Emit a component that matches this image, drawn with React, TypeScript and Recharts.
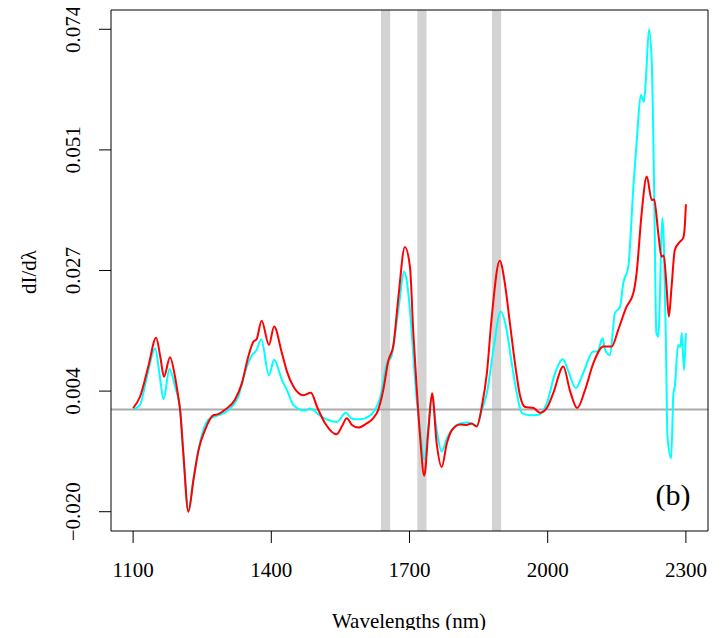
import { LineChart, Line, XAxis, YAxis, ReferenceArea, ReferenceLine } from 'recharts';

const xTicks = [1100, 1400, 1700, 2000, 2300];
const yTicks = [-0.0199, 0.0036, 0.0271, 0.0506, 0.0741];
const yTickLabels = ['\u22120.020', '0.004', '0.027', '0.051', '0.074'];

// gray bands (nm)
const bandStart = [1638, 1717, 1879];
const bandEnd = [1658, 1737, 1899];

const cyanNm = [
  1100, 1115, 1130, 1148, 1158, 1166, 1179, 1191, 1202, 1209, 1220, 1231, 1242, 1263, 1285, 1307,
  1328, 1347, 1358, 1368, 1378, 1395, 1406, 1423, 1434, 1448, 1473, 1484, 1506, 1520, 1542, 1562,
  1575, 1592, 1614, 1625, 1636, 1651, 1661, 1669, 1678, 1688, 1695, 1701, 1708, 1715, 1723, 1732,
  1741, 1748, 1759, 1770, 1781, 1795, 1810, 1828, 1846, 1857, 1868, 1882, 1898, 1911, 1922, 1933,
  1944, 1962, 1980, 1998, 2016, 2033, 2044, 2061, 2077, 2099, 2108, 2119, 2125, 2135, 2146, 2157,
  2164, 2175, 2186, 2194, 2202, 2209, 2213, 2220, 2226, 2231, 2236, 2240, 2249, 2252, 2257, 2260,
  2268, 2273, 2276, 2283, 2288, 2291, 2296, 2300,
];
const cyanVal = [
  0.0, 0.0009, 0.0064, 0.0119, 0.0064, 0.002, 0.0079, 0.0045, -0.0001, -0.0085, -0.0197, -0.0135,
  -0.0078, -0.002, -0.0011, -0.0001, 0.0025, 0.0084, 0.0106, 0.0116, 0.0137, 0.0067, 0.0097, 0.0058,
  0.0038, 0.0009, -0.0002, 0.0002, -0.0012, -0.0019, -0.0024, -0.0006, -0.0018, -0.0019, -0.0012,
  -0.0001, 0.0022, 0.009, 0.0104, 0.0149, 0.021, 0.0269, 0.0245, 0.0194, 0.011, 0.0025, -0.004,
  -0.0098, -0.0033, 0.0025, -0.004, -0.0082, -0.0056, -0.0036, -0.0027, -0.0025, -0.0032, -0.0001,
  0.0032, 0.0116, 0.0191, 0.0155, 0.009, 0.0032, -0.0007, -0.0011, -0.001, 0.0012, 0.0071, 0.0098,
  0.0077, 0.0042, 0.0071, 0.0113, 0.0113, 0.0139, 0.0116, 0.0106, 0.0188, 0.02, 0.0246, 0.0278,
  0.0434, 0.0532, 0.0613, 0.06, 0.0642, 0.0741, 0.0675, 0.0434, 0.0149, 0.0142, 0.0373, 0.033,
  0.011, -0.0053, -0.0095, 0.0032, 0.0045, 0.0126, 0.0122, 0.0149, 0.0077, 0.0149,
];

const redNm = [
  1100, 1115, 1133, 1150, 1159, 1167, 1180, 1191, 1198, 1202, 1209, 1220, 1231, 1242, 1256, 1274,
  1285, 1300, 1321, 1336, 1350, 1361, 1368, 1379, 1395, 1406, 1423, 1434, 1448, 1470, 1486, 1499,
  1517, 1542, 1553, 1564, 1575, 1589, 1607, 1621, 1632, 1643, 1654, 1665, 1676, 1690, 1701, 1708,
  1715, 1723, 1732, 1741, 1749, 1759, 1770, 1781, 1792, 1810, 1824, 1835, 1846, 1857, 1868, 1878,
  1896, 1907, 1918, 1929, 1940, 1951, 1969, 1983, 1998, 2012, 2034, 2048, 2064, 2081, 2099, 2121,
  2139, 2153, 2171, 2186, 2193, 2204, 2215, 2226, 2231, 2240, 2247, 2252, 2258, 2263, 2269, 2276,
  2287, 2294, 2297, 2300,
];
const redVal = [
  0.0003, 0.0025, 0.0084, 0.014, 0.0103, 0.0064, 0.0102, 0.0064, 0.0025, 0.0, -0.0085, -0.0199,
  -0.0137, -0.0079, -0.004, -0.0011, -0.0009, 0.0, 0.0019, 0.0051, 0.0103, 0.0132, 0.0137, 0.0173,
  0.0126, 0.0162, 0.011, 0.0074, 0.0045, 0.0028, 0.0033, 0.0006, -0.0027, -0.0048, -0.0033, -0.0017,
  -0.003, -0.0035, -0.0027, -0.0017, -0.0001, 0.0038, 0.0095, 0.0125, 0.022, 0.0317, 0.0278, 0.0155,
  0.0051, -0.0053, -0.0129, -0.004, 0.0032, -0.0066, -0.0112, -0.0066, -0.004, -0.0029, -0.003,
  -0.0027, -0.0033, 0.0006, 0.0071, 0.0175, 0.029, 0.0246, 0.0168, 0.009, 0.0027, 0.0005, 0.0003,
  -0.0006, 0.0003, 0.0032, 0.0084, 0.0038, 0.0003, 0.0038, 0.009, 0.0123, 0.0123, 0.0155, 0.02,
  0.0227, 0.0266, 0.0383, 0.0454, 0.0408, 0.041, 0.0344, 0.0298, 0.03, 0.024, 0.0181, 0.024, 0.0311,
  0.0327, 0.0334, 0.035, 0.04,
];

const cyanData = cyanNm.map((nm, i) => ({ nm, v: cyanVal[i] }));
const redData = redNm.map((nm, i) => ({ nm, v: redVal[i] }));

// R style 4% padding around data range
const xPad = (xTicks[xTicks.length - 1] - xTicks[0]) * 0.04;
const xDomain = [xTicks[0] - xPad, xTicks[xTicks.length - 1] + xPad];
const yPad = (yTicks[yTicks.length - 1] - yTicks[0]) * 0.04;
const yDomain = [yTicks[0] - yPad, yTicks[yTicks.length - 1] + yPad];

const FONT = "'Liberation Serif', 'DejaVu Serif', serif";

const YTick = (props: any) => {
  const { y, payload } = props;
  const idx = yTicks.indexOf(payload.value);
  return (
    <text
      transform={`translate(80, ${y}) rotate(-90)`}
      textAnchor="middle"
      fontFamily={FONT}
      fontSize={21}
      fill="#000"
    >
      {yTickLabels[idx]}
    </text>
  );
};

export default function App() {
  return (
    <div style={{ position: 'relative', width: 721, height: 638, margin: -8 }}>
      <LineChart
        width={721}
        height={638}
        margin={{ top: 9, right: 12, left: 0, bottom: 0 }}
      >
        <XAxis
          dataKey="nm"
          type="number"
          domain={xDomain}
          allowDataOverflow
          ticks={xTicks}
          height={107}
          tickSize={12}
          tickMargin={19}
          stroke="#000"
          tick={{ fill: '#000', fontSize: 21, fontFamily: FONT }}
        />
        <XAxis
          xAxisId="top"
          orientation="top"
          type="number"
          domain={xDomain}
          allowDataOverflow
          height={1}
          tick={false}
          tickLine={false}
          stroke="#000"
        />
        <YAxis
          type="number"
          domain={yDomain}
          allowDataOverflow
          ticks={yTicks}
          width={111}
          tickSize={12}
          stroke="#000"
          tick={<YTick />}
        />
        <YAxis
          yAxisId="right"
          orientation="right"
          type="number"
          domain={yDomain}
          allowDataOverflow
          width={1}
          tick={false}
          tickLine={false}
          stroke="#000"
        />
        {bandStart.map((s, i) => (
          <ReferenceArea
            key={i}
            x1={s}
            x2={bandEnd[i]}
            fill="#d3d3d3"
            fillOpacity={1}
            stroke="none"
          />
        ))}
        <ReferenceLine y={0} stroke="#aaaaaa" strokeWidth={2} />
        <Line
          data={cyanData}
          dataKey="v"
          type="monotone"
          stroke="#00ffff"
          strokeWidth={2}
          dot={false}
          isAnimationActive={false}
        />
        <Line
          data={redData}
          dataKey="v"
          type="monotone"
          stroke="#ff0000"
          strokeWidth={2}
          dot={false}
          isAnimationActive={false}
        />
      </LineChart>
      <svg
        width={721}
        height={638}
        style={{ position: 'absolute', left: 0, top: 0, pointerEvents: 'none' }}
        fontFamily={FONT}
      >
        <text transform="translate(36, 272) rotate(-90)" textAnchor="middle" fontSize={21} fill="#000">
          dI/dλ
        </text>
        <text x={409} y={628} textAnchor="middle" fontSize={21} fill="#000">
          Wavelengths (nm)
        </text>
        <text x={673} y={505} textAnchor="middle" fontSize={30} fill="#000">
          (b)
        </text>
      </svg>
    </div>
  );
}
